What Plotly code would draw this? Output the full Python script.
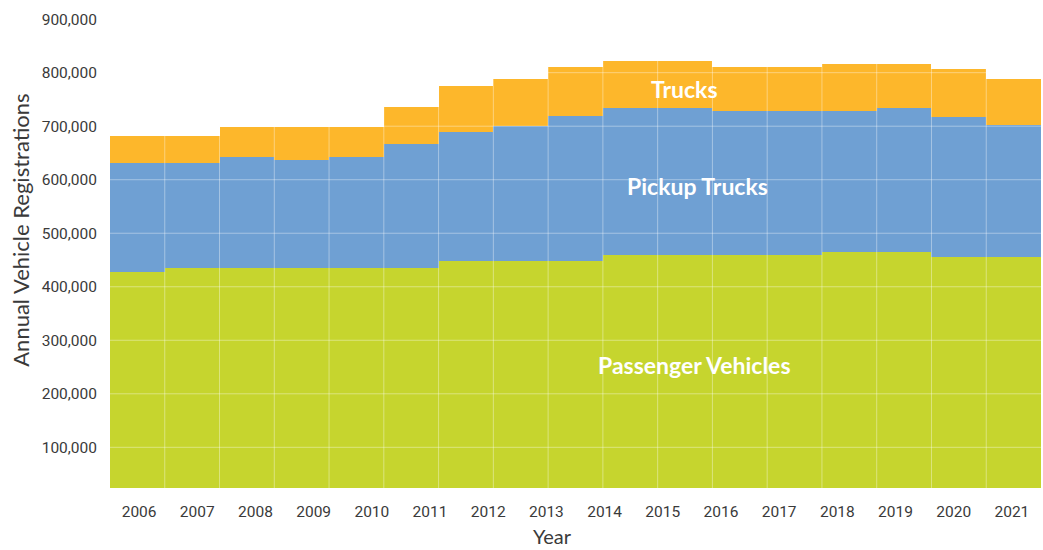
import plotly.graph_objects as go

# ---- data ----
years = [2006, 2007, 2008, 2009, 2010, 2011, 2012, 2013, 2014, 2015,
         2016, 2017, 2018, 2019, 2020, 2021]
# the stacked steps are drawn in 17 equal columns across the year axis
passenger = [428000, 435000, 435000, 435000, 435000, 435000, 449000, 449000, 449000,
             460000, 460000, 460000, 460000, 465000, 465000, 456000, 456000]
pickup = [204000, 197000, 207000, 202000, 208000, 232000, 241000, 251000, 271000,
          274000, 274000, 268000, 268000, 263000, 269000, 262000, 247000]
trucks = [50000, 50000, 56000, 61000, 55000, 68000, 86000, 89000, 90000,
          87000, 87000, 83000, 83000, 89000, 83000, 88000, 86000]
y_ticks = [100000, 200000, 300000, 400000, 500000, 600000, 700000, 800000, 900000]

series = [
    ("Passenger Vehicles", passenger, "#C6D52E"),
    ("Pickup Trucks", pickup, "#6FA0D3"),
    ("Trucks", trucks, "#FDB72B"),
]

x0 = years[0] - 0.5
x1 = years[-1] + 0.5
n = len(passenger)
w = (x1 - x0) / n
xs = [x0 + (i + 0.5) * w for i in range(n)]

fig = go.Figure()
for name, vals, col in series:
    fig.add_trace(go.Bar(x=xs, y=vals, width=w, name=name,
                         marker=dict(color=col, line=dict(width=0)),
                         hoverinfo="name+y"))

grid = "rgba(255,255,255,0.38)"
for v in y_ticks:
    fig.add_hline(y=v, line=dict(color=grid, width=1), layer="above")
for i in range(1, n):
    fig.add_vline(x=x0 + i * w, line=dict(color=grid, width=1), layer="above")

tick_font = dict(family="Roboto, Liberation Sans, sans-serif", size=15.5, color="#3a3a3a")
title_font = dict(family="Lato, Open Sans, sans-serif", size=22, color="#3a3a3a")
year_font = dict(family="Lato, Open Sans, sans-serif", size=20, color="#3a3a3a")
lab_font = dict(family="Lato, Open Sans, sans-serif", size=23, color="#FFFFFF")

fig.update_layout(
    width=1043, height=550,
    margin=dict(l=110, r=2, t=19, b=62),
    barmode="stack", bargap=0,
    plot_bgcolor="white", paper_bgcolor="white",
    showlegend=False,
    xaxis=dict(range=[x0, x1], tickmode="array", tickvals=years,
               ticktext=[str(y) for y in years], showgrid=False, zeroline=False,
               showline=False, ticks="", tickfont=tick_font, ticklabelstandoff=12),
    yaxis=dict(range=[24000, 900300], tickmode="array", tickvals=y_ticks,
               tickformat=",", showgrid=False, zeroline=False, showline=False,
               ticks="", tickfont=tick_font, ticklabelstandoff=12),
    annotations=[
        dict(text="Annual Vehicle Registrations", textangle=-90, xref="paper", yref="paper",
             x=-0.097, y=0.55, xanchor="center", yanchor="middle", showarrow=False,
             font=title_font),
        dict(text="Year", xref="paper", yref="paper", x=0.475, y=-0.102,
             xanchor="center", yanchor="middle", showarrow=False, font=year_font),
        dict(text="<b>Trucks</b>", x=2015.38, y=770000, showarrow=False, font=lab_font),
        dict(text="<b>Pickup Trucks</b>", x=2015.59, y=589000, showarrow=False, font=lab_font),
        dict(text="<b>Passenger Vehicles</b>", x=2015.55, y=254000, showarrow=False, font=lab_font),
    ],
)

fig.write_html("out.html", config={"displayModeBar": False},
               post_script="document.body.style.margin='0px';")
